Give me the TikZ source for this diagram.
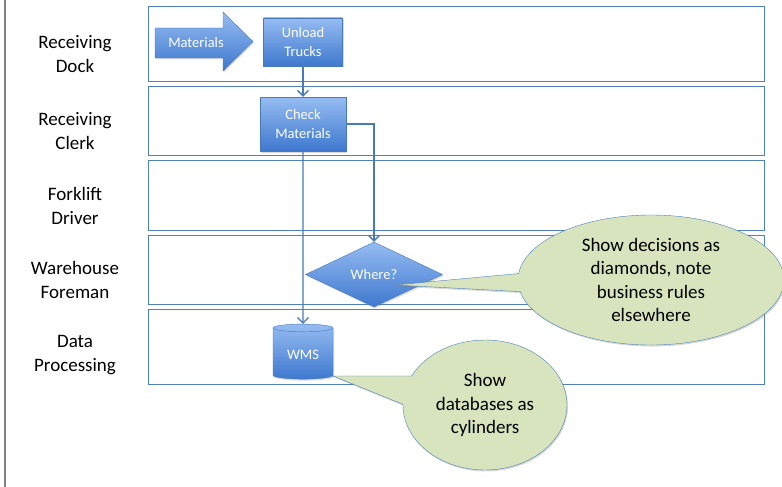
\documentclass[tikz,border=0pt]{standalone}
\usepackage{amsmath,amssymb}
\usepackage{color}
\usepackage{fontspec}
\setmainfont{Carlito}
\usepackage{tikz}
\usetikzlibrary{arrows.meta}
\usetikzlibrary{shapes.geometric,shapes.callouts,shadows}

\definecolor{lanecol}{RGB}{79,129,189}
\definecolor{boxtop}{RGB}{150,188,242}
\definecolor{boxbot}{RGB}{62,120,206}
\definecolor{boxline}{RGB}{70,122,185}
\definecolor{notefill}{RGB}{215,228,189}

\tikzset{
  lane/.style={draw=lanecol,line width=0.8pt},
  lanelabel/.style={align=center,font=\fontsize{19}{23.5}\selectfont},
  boxtext/.style={text=white,align=center,font=\fontsize{14.5}{18.5}\selectfont},
  stepbox/.style={boxtext,draw=boxline,top color=boxtop,bottom color=boxbot,
    drop shadow={shadow xshift=1pt,shadow yshift=-1.5pt,opacity=0.3}},
  flow/.style={draw=boxline,line width=1.3pt,-{Straight Barb[length=5.5pt,width=11pt]}},
  note/.style={ellipse callout,draw=lanecol,fill=notefill,align=center,
    font=\fontsize{19}{23.5}\selectfont,
    drop shadow={shadow xshift=1pt,shadow yshift=-1.5pt,opacity=0.3}}
}

\begin{document}
\begin{tikzpicture}[x=1pt,y=-1pt]
    \useasboundingbox (0,0) rectangle (782,487);
    \draw[gray,line width=1.5pt] (5,0) -- (5,487);
    % swim lanes
    \draw[lane] (148,6) rectangle (764,81);
    \draw[lane] (148,86) rectangle (764,155);
    \draw[lane] (148,160) rectangle (764,230);
    \draw[lane] (148,235) rectangle (764,304);
    \draw[lane] (148,309) rectangle (764,384);
    \node[lanelabel] (dock) at (75,54) {Receiving\\Dock};
    \node[lanelabel] (clerk) at (75,131) {Receiving\\Clerk};
    \node[lanelabel] (driver) at (75,206) {Forklift\\Driver};
    \node[lanelabel] (foreman) at (75,280) {Warehouse\\Foreman};
    \node[lanelabel] (dataproc) at (75,355) {Data\\Processing};
    % steps
    \path[draw=boxline,top color=boxtop,bottom color=boxbot,
      drop shadow={shadow xshift=1pt,shadow yshift=-1.5pt,opacity=0.3}]
      (155,28) -- (223,28) -- (223,12) -- (253,41.5) -- (223,71) -- (223,58) -- (155,58) -- cycle;
    \node[boxtext] (materials) at (196,43) {Materials};
    \node[stepbox,minimum width=79pt,minimum height=48pt] (unload) at (303,42) {Unload\\Trucks};
    \node[stepbox,minimum width=86pt,minimum height=54pt] (check) at (303,124) {Check\\Materials};
    \node[stepbox,diamond,aspect=2.1,inner sep=0pt,minimum width=137pt,minimum height=65pt] (where) at (374,274.5) {Where?};
    \node[stepbox,cylinder,shape border rotate=90,aspect=0.2,minimum width=60pt,minimum height=55pt] (wms) at (303,354.5) {WMS};
    \draw[flow] (unload) -- (check);
    \draw[flow] (check.east) -| (where.north);
    \draw[flow] (check) -- (wms);
    % notes
    \coordinate (wherept) at (395,285);
    \coordinate (wmspt) at (333,376);
    \node[note,minimum width=266pt,minimum height=130pt,callout absolute pointer=(wherept),callout pointer arc=16] (decnote) at (651,280)
      {Show decisions as\\diamonds, note\\business rules\\elsewhere};
    \node[note,minimum width=164pt,minimum height=130pt,callout absolute pointer=(wmspt),callout pointer arc=26] (dbnote) at (485,405)
      {Show\\databases as\\cylinders};
\end{tikzpicture}
\end{document}
